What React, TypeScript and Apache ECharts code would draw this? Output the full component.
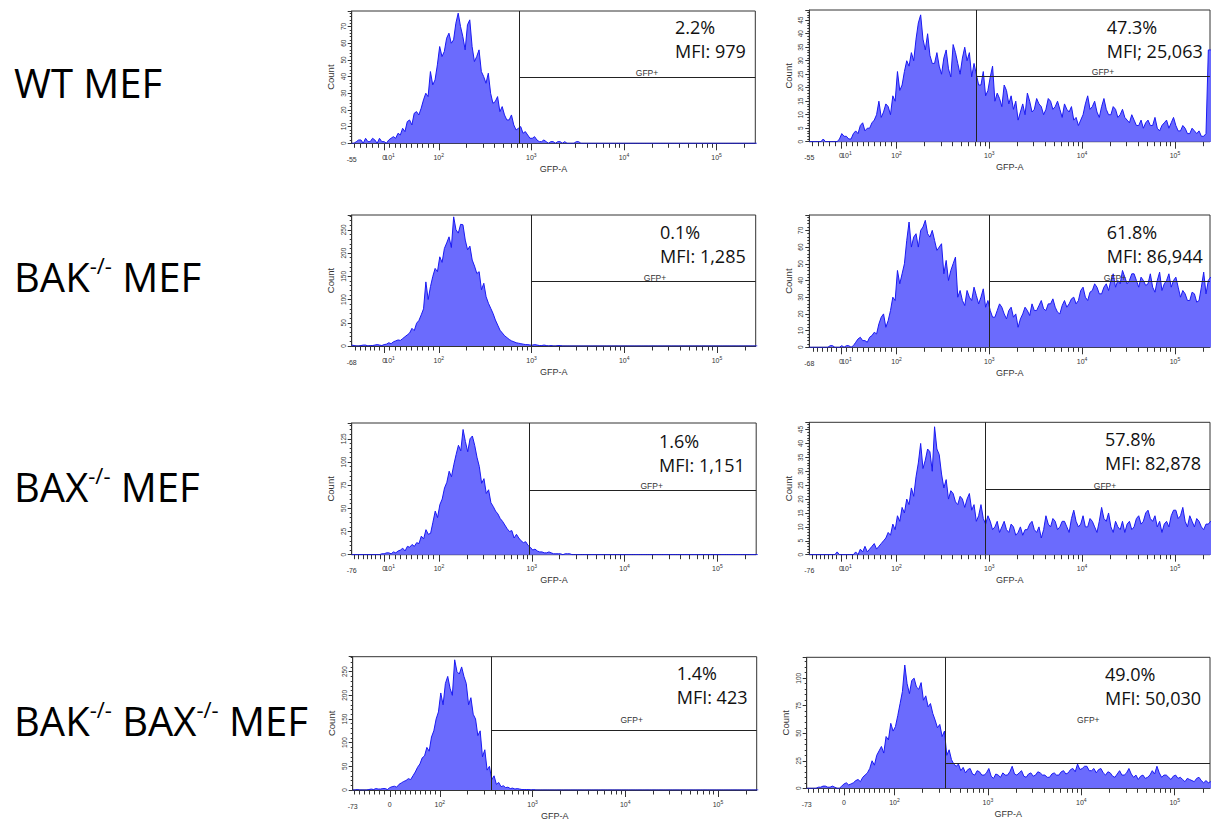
import React, { useEffect, useRef } from 'react';
import * as echarts from 'echarts';

// ---------------- data ----------------
// Histogram bins: centre of bin k sits at BIN_START + k * BIN_STEP (display decades of GFP-A)
const BIN_START = 1.06;
const BIN_STEP = 0.025;
const BIN_COUNT = 176;

const wtControl = [0, 0, 1, 2, 2, 0, 3, 1, 1, 3, 2, 0, 3, 1, 1, 0, 2, 3, 4, 3, 6, 5, 9, 7, 13, 14, 11, 18, 19, 17, 21, 26, 30, 28, 43, 35, 38, 47, 58, 52, 55, 63, 66, 60, 62, 72, 78, 70, 64, 56, 71, 74, 58, 49, 52, 56, 43, 40, 36, 42, 30, 24, 25, 28, 19, 22, 17, 14, 14, 17, 11, 8, 9, 10, 6, 7, 5, 3, 3, 4, 2, 1, 1, 2, 1, 0, 1, 1, 0, 1, 1, 0, 1, 0, 0, 0, 0, 1, 1, 0];
const wtGfp = [0, 0, 0, 0, 0, 0, 1, 0, 0, 0, 0, 0, 0, 1, 3, 2, 2, 1, 1, 3, 4, 3, 6, 7, 4, 5, 5, 7, 8, 10, 15, 9, 11, 14, 13, 10, 17, 15, 26, 19, 21, 26, 30, 28, 33, 30, 38, 44, 47, 38, 34, 40, 32, 29, 29, 33, 28, 25, 31, 34, 27, 24, 36, 33, 29, 25, 31, 35, 30, 33, 24, 29, 25, 21, 21, 26, 17, 19, 24, 28, 15, 18, 16, 13, 21, 19, 14, 17, 12, 15, 8, 11, 14, 10, 18, 15, 11, 12, 16, 14, 13, 10, 12, 16, 15, 12, 13, 15, 12, 9, 14, 12, 11, 13, 8, 9, 6, 8, 10, 14, 17, 12, 13, 15, 11, 9, 13, 16, 12, 10, 10, 13, 12, 9, 10, 12, 9, 8, 7, 10, 8, 6, 6, 8, 5, 7, 8, 6, 6, 9, 5, 4, 6, 7, 8, 5, 7, 9, 6, 4, 4, 6, 5, 3, 3, 5, 4, 3, 4, 2, 2, 3, 34, 34, 34, 34];
const bakControl = [2, 1, 0, 0, 1, 2, 2, 0, 1, 1, 2, 3, 2, 1, 3, 4, 7, 5, 9, 11, 13, 12, 16, 20, 24, 28, 38, 33, 49, 55, 67, 80, 138, 100, 128, 150, 167, 160, 192, 180, 210, 222, 235, 212, 278, 250, 243, 262, 261, 228, 207, 215, 185, 172, 156, 160, 121, 135, 106, 92, 81, 70, 56, 45, 34, 28, 22, 18, 14, 11, 9, 7, 6, 5, 4, 3, 3, 2, 2, 3, 2, 1, 1, 2, 1, 0, 1, 0, 0, 1, 1, 0];
const bakGfp = [0, 0, 0, 0, 0, 0, 0, 0, 0, 1, 1, 0, 0, 0, 1, 0, 1, 1, 0, 1, 3, 5, 6, 4, 4, 3, 6, 7, 9, 8, 14, 18, 20, 12, 16, 22, 30, 28, 46, 38, 44, 50, 64, 75, 60, 66, 68, 60, 70, 72, 76, 68, 66, 70, 64, 58, 60, 62, 44, 52, 40, 46, 50, 54, 30, 34, 28, 25, 34, 30, 28, 36, 31, 26, 30, 35, 24, 28, 22, 18, 18, 22, 26, 24, 20, 17, 22, 24, 18, 20, 12, 17, 20, 24, 22, 19, 26, 22, 22, 25, 28, 23, 22, 26, 26, 29, 24, 21, 20, 25, 28, 24, 26, 29, 30, 26, 28, 34, 36, 30, 28, 33, 34, 38, 36, 32, 32, 36, 38, 34, 40, 44, 36, 40, 38, 46, 42, 38, 40, 44, 44, 40, 36, 42, 40, 37, 38, 44, 36, 33, 40, 45, 34, 38, 40, 44, 36, 40, 42, 36, 30, 34, 32, 28, 28, 33, 32, 27, 28, 36, 45, 32, 40, 42, 40, 40];
const baxControl = [0, 0, 0, 0, 0, 0, 0, 0, 0, 0, 0, 0, 0, 1, 1, 2, 2, 1, 3, 2, 4, 5, 7, 4, 9, 8, 11, 9, 13, 12, 20, 17, 27, 22, 23, 35, 47, 40, 54, 60, 72, 78, 90, 84, 97, 108, 118, 112, 135, 122, 111, 125, 128, 118, 105, 95, 77, 82, 66, 70, 56, 52, 47, 44, 39, 36, 32, 28, 25, 26, 18, 22, 18, 15, 13, 14, 10, 8, 5, 6, 4, 3, 3, 2, 2, 3, 2, 1, 1, 1, 1, 0, 1, 1, 1, 0];
const baxGfp = [0, 0, 0, 0, 0, 0, 0, 0, 0, 0, 0, 0, 1, 0, 0, 0, 0, 0, 0, 0, 1, 0, 2, 1, 3, 1, 2, 3, 4, 2, 3, 4, 5, 6, 8, 7, 11, 9, 14, 12, 17, 15, 20, 18, 24, 21, 28, 33, 40, 31, 34, 38, 37, 30, 46, 38, 36, 29, 24, 27, 20, 23, 22, 19, 18, 21, 20, 17, 20, 22, 16, 18, 12, 14, 18, 13, 11, 14, 12, 9, 10, 12, 8, 10, 12, 9, 8, 11, 10, 7, 8, 10, 7, 9, 9, 11, 12, 9, 8, 10, 6, 9, 14, 11, 10, 13, 12, 9, 10, 12, 12, 10, 8, 13, 16, 12, 10, 11, 14, 10, 10, 13, 12, 10, 8, 12, 17, 13, 12, 15, 10, 8, 12, 10, 9, 12, 8, 11, 12, 9, 10, 13, 14, 11, 12, 15, 16, 13, 12, 14, 10, 12, 8, 11, 12, 10, 14, 16, 16, 13, 14, 17, 12, 10, 14, 12, 10, 13, 12, 10, 9, 11, 11, 12, 11, 11];
const dkoControl = [0, 0, 1, 0, 0, 0, 0, 1, 2, 1, 3, 2, 2, 3, 3, 1, 5, 7, 8, 6, 12, 15, 18, 20, 24, 22, 30, 38, 48, 55, 68, 72, 90, 82, 112, 125, 150, 165, 205, 180, 225, 240, 215, 200, 275, 250, 245, 260, 240, 225, 180, 195, 160, 150, 115, 125, 70, 85, 42, 50, 22, 30, 12, 16, 7, 9, 5, 6, 3, 4, 2, 3, 2, 1, 1, 1, 1, 0, 1, 0, 0, 0];
const dkoGfp = [0, 0, 0, 0, 0, 1, 1, 2, 2, 1, 1, 2, 1, 0, 0, 2, 4, 5, 3, 4, 5, 7, 8, 6, 10, 12, 14, 18, 25, 21, 30, 34, 38, 32, 47, 44, 59, 52, 56, 66, 77, 88, 112, 95, 86, 98, 100, 92, 90, 96, 80, 84, 74, 77, 68, 62, 55, 58, 47, 52, 30, 35, 26, 22, 20, 22, 16, 19, 14, 17, 18, 13, 12, 16, 15, 12, 12, 14, 18, 11, 9, 13, 12, 10, 14, 12, 12, 15, 20, 13, 12, 14, 16, 11, 10, 13, 14, 11, 12, 15, 14, 12, 12, 10, 10, 13, 14, 12, 12, 15, 16, 13, 14, 17, 18, 15, 22, 17, 18, 20, 20, 16, 16, 18, 14, 17, 18, 14, 12, 15, 14, 11, 10, 13, 16, 12, 12, 14, 18, 13, 10, 12, 8, 11, 12, 9, 10, 12, 16, 13, 20, 14, 10, 12, 12, 10, 8, 11, 12, 9, 10, 8, 6, 9, 8, 7, 6, 9, 10, 7, 5, 7, 5, 6, 5, 5];

const panelCounts = [wtControl, wtGfp, bakControl, bakGfp, baxControl, baxGfp, dkoControl, dkoGfp];

const axisMinLabels = [-55, -55, -68, -68, -76, -76, -73, -73];
const zeroPositions = [1.41, 1.4, 1.41, 1.4, 1.41, 1.4, 1.46, 1.46];
const tenLabelShown = [true, true, true, true, true, true, false, false];
const decadeTicks = [2, 3, 4, 5];
const decadeLabels = ['10{s|2}', '10{s|3}', '10{s|4}', '10{s|5}'];

const yMaxes = [79.3, 48.8, 282, 79.2, 142, 47.6, 281.6, 119];
const yIntervals = [10, 5, 50, 10, 25, 5, 50, 25];

const gateX = [2.87, 2.858, 3.0, 3.0, 2.97, 2.954, 2.555, 2.543];
const gateY = [39.4, 24.3, 138.6, 39.4, 70, 23.6, 126.7, 22.8];

const percentLabels = ['2.2%', '47.3%', '0.1%', '61.8%', '1.6%', '57.8%', '1.4%', '49.0%'];
const mfiLabels = ['MFI: 979', 'MFI; 25,063', 'MFI: 1,285', 'MFI: 86,944', 'MFI: 1,151', 'MFI: 82,878', 'MFI: 423', 'MFI: 50,030'];
const rowLabels = ['WT MEF', 'BAK{s|-/-} MEF', 'BAX{s|-/-} MEF', 'BAK{s|-/-} BAX{s|-/-} MEF'];

// ---------------- layout ----------------
const U_MIN = 1.06;
const U_MAX_BY_COL = [5.418, 5.378];
const panelBoxes = [
  [351.7, 11, 403.6, 132.3],
  [809.3, 10, 400.7, 131.7],
  [351.7, 215, 404, 131],
  [809.3, 215, 400.7, 132.3],
  [351.7, 423, 404.5, 131.7],
  [809.3, 422.3, 400.7, 132.4],
  [352.7, 656.7, 404, 133.3],
  [806.7, 657.3, 403.3, 131],
];
const statPositions = [[675, 27], [1106.7, 26.7], [660, 231.7], [1106.7, 231.7], [659, 440.7], [1105, 438.7], [676.7, 673.3], [1105, 674]];
const gfpLabelPositions = [[647, 73], [1103, 71.7], [655, 277.7], [1115, 277.7], [651.7, 486], [1105, 485.7], [631.7, 720], [1088.3, 720]];
const rowLabelY = [82.5, 276, 486, 720];

const AXIS_COLOR = '#333';
const AXIS_FONT = 'Liberation Sans, Arial, sans-serif';
const NOTE_FONT = 'Open Sans, sans-serif';

function buildOption() {
  const grids: any[] = [];
  const xAxes: any[] = [];
  const yAxes: any[] = [];
  const series: any[] = [];
  const graphics: any[] = [];

  panelCounts.forEach((counts, i) => {
    const [left, top, width, height] = panelBoxes[i];
    const uMax = U_MAX_BY_COL[i % 2];
    const u0 = zeroPositions[i];
    const minVal = axisMinLabels[i];
    const toU = (v: number) => (v >= 0 ? u0 + (v / 100) * (2 - u0) : u0 + (v / -minVal) * (u0 - U_MIN));

    const labels: { u: number; t: string }[] = [
      { u: U_MIN, t: `{lo|${minVal}}` },
      { u: u0, t: '0' },
    ];
    if (tenLabelShown[i]) labels.push({ u: toU(10), t: '10{s|1}' });
    decadeTicks.forEach((d, k) => labels.push({ u: d, t: decadeLabels[k] }));

    const majors = [u0, ...decadeTicks];
    const minors: number[] = [];
    for (let v = -10; v > minVal; v -= 10) minors.push(toU(v));
    for (let v = 10; v < 100; v += 10) minors.push(toU(v));
    for (let d = 2; d <= 5; d++) {
      for (let k = 2; k <= 9; k++) {
        const u = d + Math.log10(k);
        if (u < uMax) minors.push(u);
      }
    }

    grids.push({
      left, top, width, height,
      show: true,
      borderColor: AXIS_COLOR,
      borderWidth: 1,
      backgroundColor: 'transparent',
    });

    xAxes.push({
      gridIndex: i,
      type: 'value',
      min: U_MIN,
      max: uMax,
      position: 'bottom',
      axisLine: { show: true, onZero: false, lineStyle: { color: AXIS_COLOR, width: 1 } },
      axisTick: { show: true, customValues: majors, length: 7, lineStyle: { color: AXIS_COLOR, width: 1 } },
      splitLine: { show: false },
      axisLabel: {
        customValues: labels.map((l) => l.u),
        formatter: (val: number) => {
          let best = labels[0];
          labels.forEach((l) => {
            if (Math.abs(l.u - val) < Math.abs(best.u - val)) best = l;
          });
          return best.t;
        },
        fontSize: 7,
        lineHeight: 10,
        fontFamily: AXIS_FONT,
        color: AXIS_COLOR,
        margin: 9,
        rich: {
          s: { fontSize: 5, lineHeight: 5, verticalAlign: 'top', fontFamily: AXIS_FONT, color: AXIS_COLOR },
          lo: { fontSize: 7, lineHeight: 10, padding: [4, 0, 0, 0], fontFamily: AXIS_FONT, color: AXIS_COLOR },
        },
      },
      name: 'GFP-A',
      nameLocation: 'middle',
      nameGap: 21,
      nameTextStyle: { fontSize: 9, color: AXIS_COLOR, fontFamily: AXIS_FONT },
    });
    xAxes.push({
      gridIndex: i,
      type: 'value',
      min: U_MIN,
      max: uMax,
      position: 'bottom',
      axisLine: { show: false },
      axisLabel: { show: false },
      splitLine: { show: false },
      axisTick: { show: true, customValues: minors, length: 4.5, lineStyle: { color: AXIS_COLOR, width: 1 } },
    });

    yAxes.push({
      gridIndex: i,
      type: 'value',
      min: 0,
      max: yMaxes[i],
      interval: yIntervals[i],
      axisLine: { show: true, lineStyle: { color: AXIS_COLOR, width: 1 } },
      axisTick: { show: true, length: 4, lineStyle: { color: AXIS_COLOR, width: 1 } },
      minorTick: { show: true, splitNumber: 5, length: 2, lineStyle: { color: AXIS_COLOR, width: 1 } },
      splitLine: { show: false },
      axisLabel: {
        rotate: 90,
        fontSize: 6.5,
        color: AXIS_COLOR,
        fontFamily: AXIS_FONT,
        margin: 5,
        showMaxLabel: false,
      },
      name: 'Count',
      nameLocation: 'middle',
      nameRotate: 90,
      nameGap: 16,
      nameTextStyle: { fontSize: 9.5, color: AXIS_COLOR, fontFamily: AXIS_FONT },
    });

    const padded = counts.concat(new Array(Math.max(0, BIN_COUNT - counts.length)).fill(0));
    series.push({
      type: 'line',
      xAxisIndex: i * 2,
      yAxisIndex: i,
      data: padded.map((c, k) => [BIN_START + k * BIN_STEP, c]),
      showSymbol: false,
      symbol: 'none',
      smooth: false,
      clip: true,
      lineStyle: { color: '#1a1af2', width: 1 },
      areaStyle: { color: '#6b6bfd', opacity: 1 },
      z: 2,
      markLine: {
        silent: true,
        symbol: 'none',
        label: { show: false },
        lineStyle: { color: '#222', width: 1, type: 'solid' },
        data: [
          [{ coord: [gateX[i], 0] }, { coord: [gateX[i], yMaxes[i]] }],
          [{ coord: [gateX[i], gateY[i]] }, { coord: [uMax, gateY[i]] }],
        ],
      },
    });

    const [sx, sy] = statPositions[i];
    graphics.push({
      type: 'text',
      x: sx,
      y: sy - 12,
      z: 100,
      style: {
        text: `${percentLabels[i]}\n${mfiLabels[i]}`,
        fontSize: 18,
        lineHeight: 24,
        fontFamily: NOTE_FONT,
        fill: '#111',
        align: 'left',
        verticalAlign: 'top',
      },
    });
    const [gx, gy] = gfpLabelPositions[i];
    graphics.push({
      type: 'text',
      x: gx,
      y: gy,
      z: 100,
      style: {
        text: 'GFP+',
        fontSize: 8.5,
        fontFamily: AXIS_FONT,
        fill: AXIS_COLOR,
        align: 'center',
        verticalAlign: 'middle',
      },
    });
  });

  rowLabels.forEach((t, r) => {
    graphics.push({
      type: 'text',
      x: 14,
      y: rowLabelY[r],
      z: 100,
      style: {
        text: t,
        fontSize: 40,
        lineHeight: 45,
        fontFamily: NOTE_FONT,
        fill: '#000',
        align: 'left',
        verticalAlign: 'middle',
        rich: {
          s: { fontSize: 22, lineHeight: 22, verticalAlign: 'top', fontFamily: NOTE_FONT, fill: '#000' },
        },
      },
    });
  });

  return {
    animation: false,
    backgroundColor: '#fff',
    grid: grids,
    xAxis: xAxes,
    yAxis: yAxes,
    series,
    graphic: graphics,
  };
}

export default function App() {
  const ref = useRef<HTMLDivElement>(null);
  useEffect(() => {
    if (!ref.current) return;
    const chart = echarts.init(ref.current, undefined, { renderer: 'svg' });
    chart.setOption(buildOption() as any);
    return () => chart.dispose();
  }, []);
  return <div ref={ref} style={{ position: 'fixed', left: 0, top: 0, width: 1211, height: 823, background: '#fff' }} />;
}
